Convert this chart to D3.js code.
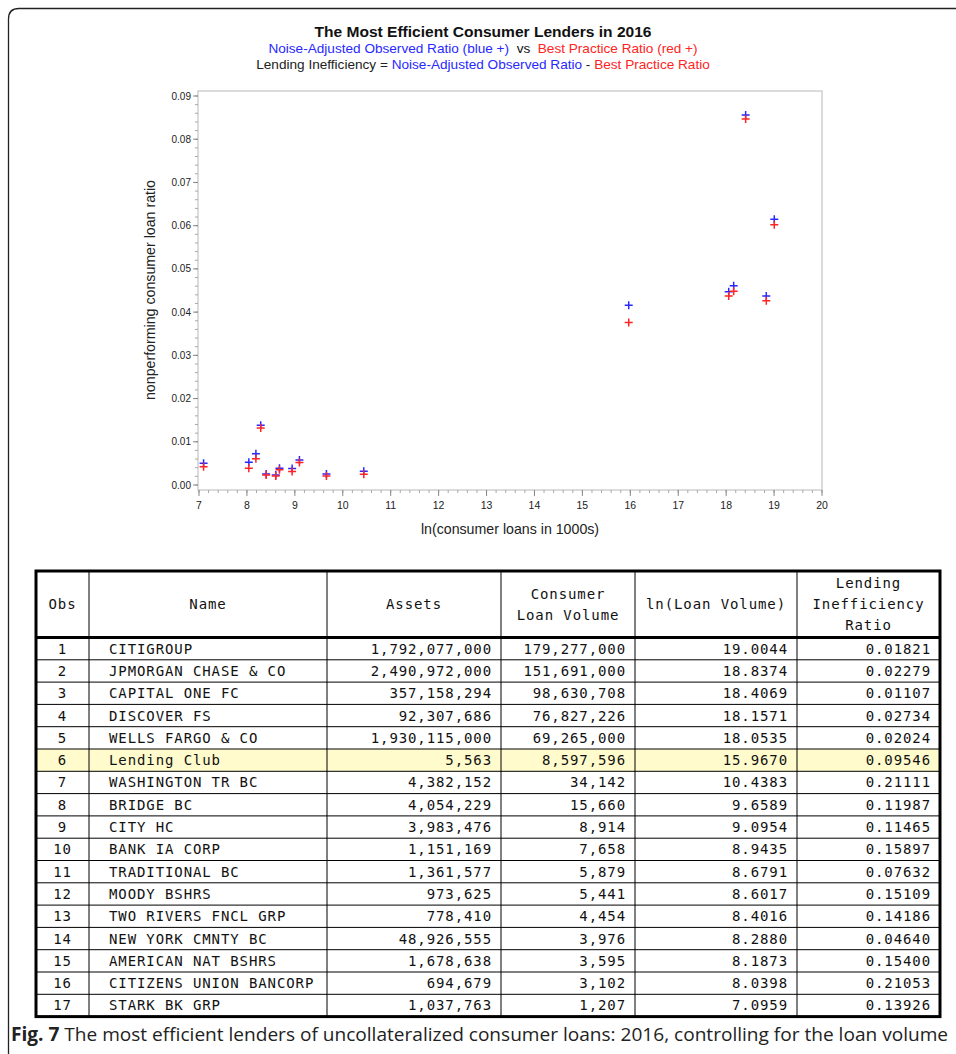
<!DOCTYPE html>
<html><head><meta charset="utf-8">
<script src="https://cdn.jsdelivr.net/npm/d3@7"></script>
<style>body{margin:0;background:#fff}svg{display:block}</style>
</head><body>
<svg id="c" width="956" height="1054"></svg>
<script>
// ---------- data ----------
const obs = [1,2,3,4,5,6,7,8,9,10,11,12,13,14,15,16,17];
const names = ["CITIGROUP","JPMORGAN CHASE & CO","CAPITAL ONE FC","DISCOVER FS","WELLS FARGO & CO","Lending Club","WASHINGTON TR BC","BRIDGE BC","CITY HC","BANK IA CORP","TRADITIONAL BC","MOODY BSHRS","TWO RIVERS FNCL GRP","NEW YORK CMNTY BC","AMERICAN NAT BSHRS","CITIZENS UNION BANCORP","STARK BK GRP"];
const assets = ["1,792,077,000","2,490,972,000","357,158,294","92,307,686","1,930,115,000","5,563","4,382,152","4,054,229","3,983,476","1,151,169","1,361,577","973,625","778,410","48,926,555","1,678,638","694,679","1,037,763"];
const loanVolume = ["179,277,000","151,691,000","98,630,708","76,827,226","69,265,000","8,597,596","34,142","15,660","8,914","7,658","5,879","5,441","4,454","3,976","3,595","3,102","1,207"];
const lnLoan = [19.0044,18.8374,18.4069,18.1571,18.0535,15.9670,10.4383,9.6589,9.0954,8.9435,8.6791,8.6017,8.4016,8.2880,8.1873,8.0398,7.0959];
const ineff = ["0.01821","0.02279","0.01107","0.02734","0.02024","0.09546","0.21111","0.11987","0.11465","0.15897","0.07632","0.15109","0.14186","0.04640","0.15400","0.21053","0.13926"];
// plotted ratios
const observedRatio = [0.0615,0.0437,0.0856,0.0461,0.0447,0.0416,0.0032,0.00255,0.0058,0.0038,0.00386,0.0023,0.00255,0.0138,0.00725,0.00525,0.00502];
const bestPractice  = [0.0602,0.0426,0.0847,0.0448,0.0437,0.0376,0.0025,0.0021,0.0052,0.0031,0.0035,0.0021,0.0023,0.0132,0.0061,0.00386,0.00424];
const xTickLabels = [7,8,9,10,11,12,13,14,15,16,17,18,19,20];
const yTickLabels = [0.00,0.01,0.02,0.03,0.04,0.05,0.06,0.07,0.08,0.09];
const headers = [["Obs"],["Name"],["Assets"],["Consumer","Loan Volume"],["ln(Loan Volume)"],["Lending","Inefficiency","Ratio"]];

const BLUE = "#2828ff", RED = "#ff2424";
const svg = d3.select("#c");

// figure frame (rounded top-left)
svg.append("path")
  .attr("d","M8.5,1054 V19 Q8.5,8.5 19,8.5 H956")
  .attr("fill","none").attr("stroke","#222").attr("stroke-width",1.3);

// ---------- titles ----------
const sans = "'Liberation Sans', Arial, sans-serif";
svg.append("text").attr("x",483).attr("y",37).attr("text-anchor","middle")
  .attr("font-family",sans).attr("font-size",15).attr("font-weight","bold").attr("fill","#111")
  .attr("textLength",337).attr("lengthAdjust","spacingAndGlyphs")
  .text("The Most Efficient Consumer Lenders in 2016");
const s1 = svg.append("text").attr("x",483).attr("y",53).attr("text-anchor","middle")
  .attr("font-family",sans).attr("font-size",13.6);
s1.append("tspan").attr("fill",BLUE).text("Noise-Adjusted Observed Ratio (blue +)");
s1.append("tspan").attr("fill","#111").text("  vs  ").attr("xml:space","preserve");
s1.append("tspan").attr("fill",RED).text("Best Practice Ratio (red +)");
const s2 = svg.append("text").attr("x",483).attr("y",69).attr("text-anchor","middle")
  .attr("font-family",sans).attr("font-size",13.6);
s2.append("tspan").attr("fill","#222").text("Lending Inefficiency = ");
s2.append("tspan").attr("fill",BLUE).text("Noise-Adjusted Observed Ratio");
s2.append("tspan").attr("fill","#222").text(" - ");
s2.append("tspan").attr("fill",RED).text("Best Practice Ratio");

// ---------- plot ----------
const fx0=198, fx1=822, fy0=91, fy1=490;
const x = d3.scaleLinear().domain([7,20]).range([199,822]);
const y = d3.scaleLinear().domain([0,0.09]).range([485,96]);

svg.append("rect").attr("x",fx0).attr("y",fy0).attr("width",fx1-fx0).attr("height",fy1-fy0)
  .attr("fill","#fff").attr("stroke","#c4c4c4").attr("stroke-width",1.2);

const axisColor = "#a8a8a8";
// x axis
const gx = svg.append("g").attr("transform",`translate(0,${fy1})`);
gx.selectAll("line.minor").data(d3.range(7,20.001,0.2)).join("line")
  .attr("x1",d=>x(d)).attr("x2",d=>x(d)).attr("y1",0).attr("y2",3)
  .attr("stroke",axisColor).attr("stroke-width",1);
gx.selectAll("line.major").data(xTickLabels).join("line").attr("class","major")
  .attr("x1",d=>x(d)).attr("x2",d=>x(d)).attr("y1",0).attr("y2",6)
  .attr("stroke","#888").attr("stroke-width",1);
gx.selectAll("text").data(xTickLabels).join("text")
  .attr("x",d=>x(d)).attr("y",19).attr("text-anchor","middle")
  .attr("font-family",sans).attr("font-size",10.5).attr("fill","#222").text(d=>d);

// y axis
const gy = svg.append("g").attr("transform",`translate(${fx0},0)`);
gy.selectAll("line.minor").data(d3.range(0,0.0901,0.002)).join("line")
  .attr("y1",d=>y(d)).attr("y2",d=>y(d)).attr("x1",0).attr("x2",-3)
  .attr("stroke",axisColor).attr("stroke-width",1);
gy.selectAll("line.major").data(yTickLabels).join("line").attr("class","major")
  .attr("y1",d=>y(d)).attr("y2",d=>y(d)).attr("x1",0).attr("x2",-5)
  .attr("stroke","#888").attr("stroke-width",1);
gy.selectAll("text").data(yTickLabels).join("text")
  .attr("x",-7).attr("y",d=>y(d)+3.5).attr("text-anchor","end")
  .attr("font-family",sans).attr("font-size",10).attr("fill","#222").text(d=>d3.format(".2f")(d));

svg.append("text").attr("x",510).attr("y",534).attr("text-anchor","middle")
  .attr("font-family",sans).attr("font-size",14.2).attr("fill","#222")
  .text("ln(consumer loans in 1000s)");
svg.append("text").attr("transform","translate(155,290) rotate(-90)").attr("text-anchor","middle")
  .attr("font-family",sans).attr("font-size",14.2).attr("fill","#222")
  .text("nonperforming consumer loan ratio");

const plus = "M-4,0H4M0,-4V4";
const pts = lnLoan.map((v,i)=>({x:v,b:observedRatio[i],r:bestPractice[i]}));
svg.append("g").selectAll("path").data(pts).join("path")
  .attr("d",plus).attr("transform",d=>`translate(${x(d.x)},${y(d.b)})`)
  .attr("stroke",BLUE).attr("stroke-width",1.5).attr("fill","none");
svg.append("g").selectAll("path").data(pts).join("path")
  .attr("d",plus).attr("transform",d=>`translate(${x(d.x)},${y(d.r)})`)
  .attr("stroke",RED).attr("stroke-width",1.5).attr("fill","none");

// ---------- table ----------
const cols = [36,89,327,501,635,797,940];
const tTop = 571, hBot = 637.5, rowH = 22.3;
const mono = "'DejaVu Sans Mono', 'Liberation Mono', monospace";
const tg = svg.append("g");
const rowY = i => hBot + i*rowH;
const tBot = rowY(obs.length);

// highlight Lending Club
const hi = names.indexOf("Lending Club");
tg.append("rect").attr("x",cols[0]).attr("y",rowY(hi)).attr("width",cols[6]-cols[0]).attr("height",rowH)
  .attr("fill","#fffbcc");

// horizontal row lines
tg.selectAll("line.row").data(d3.range(1,obs.length)).join("line")
  .attr("x1",cols[0]).attr("x2",cols[6]).attr("y1",d=>rowY(d)).attr("y2",d=>rowY(d))
  .attr("stroke","#000").attr("stroke-width",1);
// vertical col lines
tg.selectAll("line.col").data(cols.slice(1,6)).join("line")
  .attr("x1",d=>d).attr("x2",d=>d).attr("y1",tTop).attr("y2",tBot)
  .attr("stroke","#000").attr("stroke-width",1);
// header separator & outer border
tg.append("line").attr("x1",cols[0]).attr("x2",cols[6]).attr("y1",hBot).attr("y2",hBot)
  .attr("stroke","#000").attr("stroke-width",3);
tg.append("rect").attr("x",cols[0]).attr("y",tTop).attr("width",cols[6]-cols[0]).attr("height",tBot-tTop)
  .attr("fill","none").attr("stroke","#000").attr("stroke-width",3);

const tf = (sel)=>sel.attr("font-family",mono).attr("font-size",14).attr("letter-spacing",0.9).attr("fill","#111");
// headers
headers.forEach((lines,c)=>{
  const cx = (cols[c]+cols[c+1])/2;
  const mid = (tTop+hBot)/2 + 5;
  lines.forEach((t,k)=>{
    tf(tg.append("text")).attr("x",cx).attr("y",mid + (k-(lines.length-1)/2)*21)
      .attr("text-anchor","middle").text(t);
  });
});
// body
const pad = 9;
const rows = obs.map((o,i)=>({o,name:names[i],a:assets[i],v:loanVolume[i],l:lnLoan[i].toFixed(4),e:ineff[i],i}));
const rg = tg.selectAll("g.r").data(rows).join("g").attr("transform",d=>`translate(0,${rowY(d.i)+rowH/2+5})`);
tf(rg.append("text")).attr("x",(cols[0]+cols[1])/2).attr("text-anchor","middle").text(d=>d.o);
tf(rg.append("text")).attr("x",cols[1]+20).text(d=>d.name);
tf(rg.append("text")).attr("x",cols[3]-pad).attr("text-anchor","end").text(d=>d.a);
tf(rg.append("text")).attr("x",cols[4]-pad).attr("text-anchor","end").text(d=>d.v);
tf(rg.append("text")).attr("x",cols[5]-pad).attr("text-anchor","end").text(d=>d.l);
tf(rg.append("text")).attr("x",cols[6]-pad).attr("text-anchor","end").text(d=>d.e);

// ---------- caption ----------
const cap = svg.append("text").attr("x",11).attr("y",1041)
  .attr("font-family","'Open Sans', 'Noto Sans', sans-serif").attr("font-size",19).attr("fill","#222")
  .attr("textLength",937).attr("lengthAdjust","spacingAndGlyphs");
cap.append("tspan").attr("font-weight","bold").text("Fig. 7");
cap.append("tspan").text("  The most efficient lenders of uncollateralized consumer loans: 2016, controlling for the loan volume");
</script>
</body></html>
